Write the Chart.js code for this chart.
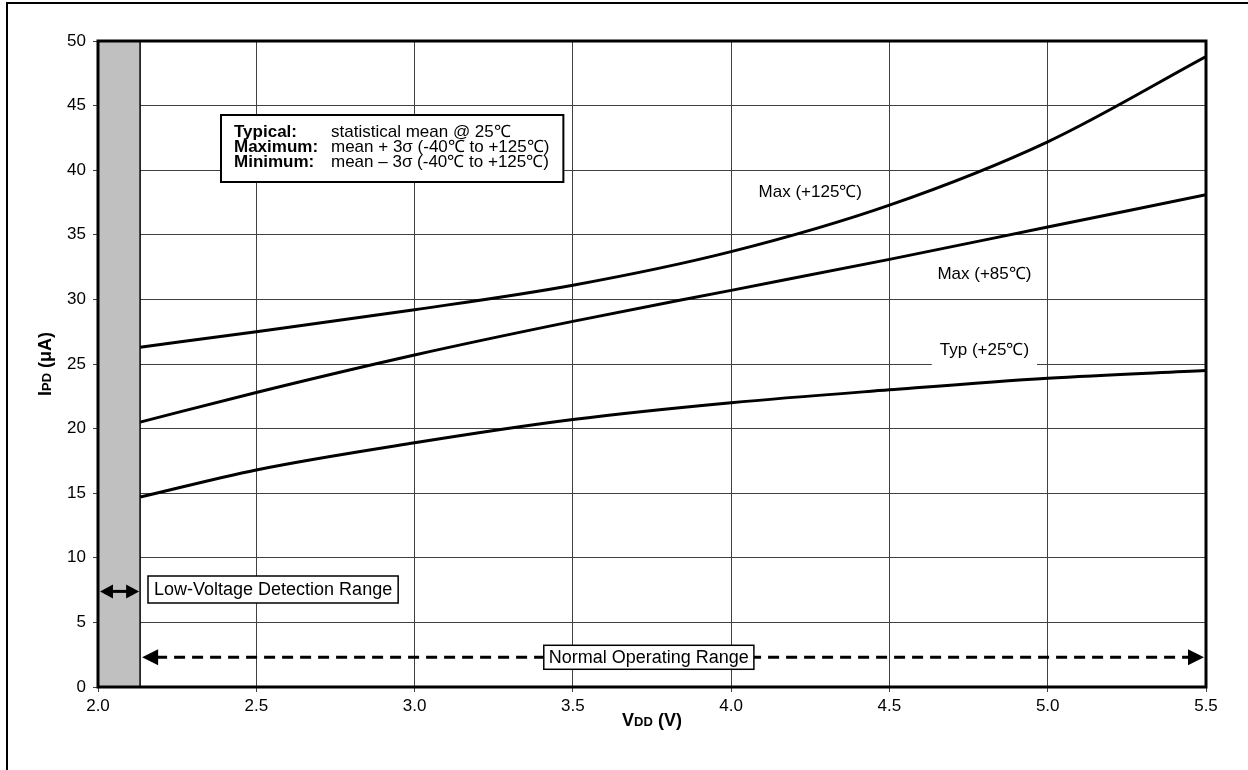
<!DOCTYPE html>
<html>
<head>
<meta charset="utf-8">
<script src="https://cdn.jsdelivr.net/npm/chart.js@4.4.0/dist/chart.umd.min.js"></script>
<style>
    body { margin: 0; background: #fff; }
    canvas { display: block; }
</style>
</head>
<body>
<canvas id="IpdChart" width="1248" height="770"></canvas>
<script>
// -------------------------    Data    -------------------------

// supply voltage (V) sample points, curves start at the edge of the LVD band
var vdd = [2.133, 2.5, 3.0, 3.5, 4.0, 4.5, 5.0, 5.5];

// power-down current (uA)
var max125 = [26.3, 27.5, 29.2, 31.1, 33.7, 37.3, 42.2, 48.8];
var max85 = [20.5, 22.8, 25.7, 28.3, 30.7, 33.1, 35.6, 38.1];
var typ25 = [14.7, 16.8, 18.9, 20.7, 22.0, 23.0, 23.9, 24.5];

var seriesNames = ['Max (+125℃)', 'Max (+85℃)', 'Typ (+25℃)'];

// axis ranges
var xMin = 2.0, xMax = 5.5, xStep = 0.5;
var yMin = 0, yMax = 50, yStep = 5;

// low-voltage detection band end (V)
var lvdEnd = 2.133;

var legendRows = [
    ['Typical:', 'statistical mean @ 25℃'],
    ['Maximum:', 'mean + 3σ (-40℃ to +125℃)'],
    ['Minimum:', 'mean – 3σ (-40℃ to +125℃)'],
];

var FONT = '"Liberation Sans", Arial, sans-serif';


// -------------------------    Helpers    -------------------------

function toPoints(xs, ys) {
    return xs.map(function (x, i) { return { x: x, y: ys[i] }; });
}

// text made of parts [text, size, bold]
function partsWidth(ctx, parts) {
    var w = 0;
    parts.forEach(function (p) {
        ctx.font = (p[2] ? 'bold ' : '') + p[1] + 'px ' + FONT;
        w += ctx.measureText(p[0]).width;
    });
    return w;
}

function drawParts(ctx, parts, x, y) {
    parts.forEach(function (p) {
        ctx.font = (p[2] ? 'bold ' : '') + p[1] + 'px ' + FONT;
        ctx.fillText(p[0], x, y);
        x += ctx.measureText(p[0]).width;
    });
}

function arrowHead(ctx, tipX, y, dir, len, half) {
    ctx.beginPath();
    ctx.moveTo(tipX, y);
    ctx.lineTo(tipX - dir * len, y - half);
    ctx.lineTo(tipX - dir * len, y + half);
    ctx.closePath();
    ctx.fill();
}

// white box with centered text, optional border
function boxedText(ctx, text, cx, cy, size, padX, top, bottom, lineW) {
    ctx.font = size + 'px ' + FONT;
    var w = ctx.measureText(text).width + padX * 2;
    ctx.fillStyle = '#fff';
    ctx.fillRect(cx - w / 2, cy - top, w, top + bottom);
    if (lineW) {
        ctx.strokeStyle = '#000';
        ctx.lineWidth = lineW;
        ctx.strokeRect(cx - w / 2, cy - top, w, top + bottom);
    }
    ctx.fillStyle = '#000';
    ctx.textAlign = 'center';
    ctx.textBaseline = 'middle';
    ctx.fillText(text, cx, cy + 1);
}


// -------------------------    Plugins    -------------------------

// gray low-voltage band, drawn over the grid but below the curves
var bandPlugin = {
    id: 'lvdBand',
    beforeDatasetsDraw: function (chart) {
        var ctx = chart.ctx, a = chart.chartArea;
        var x0 = chart.scales.x.getPixelForValue(xMin);
        var x1 = chart.scales.x.getPixelForValue(lvdEnd);
        ctx.save();
        ctx.fillStyle = '#c0c0c0';
        ctx.fillRect(x0, a.top, x1 - x0, a.bottom - a.top);
        ctx.strokeStyle = '#000';
        ctx.lineWidth = 1.5;
        ctx.beginPath();
        ctx.moveTo(x1, a.top);
        ctx.lineTo(x1, a.bottom);
        ctx.stroke();
        ctx.restore();
    }
};

var annotatePlugin = {
    id: 'annotate',
    afterDatasetsDraw: function (chart) {
        var ctx = chart.ctx, a = chart.chartArea;
        var sx = chart.scales.x, sy = chart.scales.y;
        ctx.save();

        // plot frame
        ctx.strokeStyle = '#000';
        ctx.lineWidth = 3;
        ctx.strokeRect(a.left, a.top, a.right - a.left, a.bottom - a.top);

        // curve labels
        boxedText(ctx, seriesNames[0], sx.getPixelForValue(4.25), sy.getPixelForValue(38.4), 17, 2, 11, 11, 0);
        boxedText(ctx, seriesNames[1], sx.getPixelForValue(4.8), sy.getPixelForValue(32.0), 17, 2, 11, 11, 0);
        boxedText(ctx, seriesNames[2], sx.getPixelForValue(4.8), sy.getPixelForValue(26.1), 17, 8, 14, 16, 0);

        // legend box
        var lx = 221, ly = 115;
        var colX = lx + 110;
        ctx.font = '17px ' + FONT;
        var longest = 0;
        legendRows.forEach(function (row) {
            longest = Math.max(longest, ctx.measureText(row[1]).width);
        });
        var lw = colX + longest + 14 - lx, lh = 67;
        ctx.fillStyle = '#fff';
        ctx.fillRect(lx, ly, lw, lh);
        ctx.lineWidth = 2;
        ctx.strokeRect(lx, ly, lw, lh);
        ctx.fillStyle = '#000';
        ctx.textAlign = 'left';
        ctx.textBaseline = 'middle';
        legendRows.forEach(function (row, i) {
            var ry = ly + 17 + i * 15;
            ctx.font = 'bold 17px ' + FONT;
            ctx.fillText(row[0], lx + 13, ry);
            ctx.font = '17px ' + FONT;
            ctx.fillText(row[1], colX, ry);
        });

        // low-voltage detection arrow
        var ay = sy.getPixelForValue(7.4);
        var bx0 = sx.getPixelForValue(xMin) + 2, bx1 = sx.getPixelForValue(lvdEnd) - 1;
        ctx.fillStyle = '#000';
        ctx.lineWidth = 3;
        ctx.beginPath();
        ctx.moveTo(bx0 + 8, ay);
        ctx.lineTo(bx1 - 8, ay);
        ctx.stroke();
        arrowHead(ctx, bx0, ay, -1, 13, 7);
        arrowHead(ctx, bx1, ay, 1, 13, 7);
        ctx.textAlign = 'left';
        ctx.font = '18px ' + FONT;
        var lvText = 'Low-Voltage Detection Range';
        var lvW = ctx.measureText(lvText).width + 12;
        ctx.fillStyle = '#fff';
        ctx.fillRect(148, 576, lvW, 27);
        ctx.lineWidth = 1.5;
        ctx.strokeRect(148, 576, lvW, 27);
        ctx.fillStyle = '#000';
        ctx.fillText(lvText, 154, 590);

        // normal operating range dashed arrow
        var ny = sy.getPixelForValue(2.3);
        var nx0 = sx.getPixelForValue(lvdEnd) + 2, nx1 = sx.getPixelForValue(xMax) - 2;
        ctx.setLineDash([11, 7]);
        ctx.lineWidth = 3;
        ctx.beginPath();
        ctx.moveTo(nx0 + 14, ny);
        ctx.lineTo(nx1 - 14, ny);
        ctx.stroke();
        ctx.setLineDash([]);
        arrowHead(ctx, nx0, ny, -1, 16, 8);
        arrowHead(ctx, nx1, ny, 1, 16, 8);
        boxedText(ctx, 'Normal Operating Range', sx.getPixelForValue(3.74), ny, 18, 5, 12, 12, 1.5);

        ctx.restore();
    },
    afterDraw: function (chart) {
        var ctx = chart.ctx, a = chart.chartArea;
        ctx.save();
        ctx.fillStyle = '#000';
        ctx.textBaseline = 'alphabetic';
        ctx.textAlign = 'left';

        // x axis title
        var xt = [['V', 18, true], ['DD', 13, true], [' (V)', 18, true]];
        var xw = partsWidth(ctx, xt);
        drawParts(ctx, xt, (a.left + a.right) / 2 - xw / 2, 726);

        // y axis title
        var yt = [['I', 18, true], ['PD', 13, true], [' (μA)', 18, true]];
        var yw = partsWidth(ctx, yt);
        ctx.translate(51, (a.top + a.bottom) / 2);
        ctx.rotate(-Math.PI / 2);
        drawParts(ctx, yt, -yw / 2, 0);
        ctx.setTransform(1, 0, 0, 1, 0, 0);

        // outer frame (top and left edges)
        ctx.strokeStyle = '#000';
        ctx.lineWidth = 2;
        ctx.beginPath();
        ctx.moveTo(7, 770);
        ctx.lineTo(7, 3);
        ctx.lineTo(1248, 3);
        ctx.stroke();
        ctx.restore();
    }
};


// -------------------------    Chart Setup    -------------------------

var lineStyle = {
    borderColor: '#000',
    borderWidth: 3,
    pointRadius: 0,
    fill: false,
    cubicInterpolationMode: 'monotone',
};

var datasets = [max125, max85, typ25].map(function (ys, i) {
    return Object.assign({ label: seriesNames[i], data: toPoints(vdd, ys) }, lineStyle);
});

var ctx = document.getElementById('IpdChart').getContext('2d');
var IpdChart = new Chart(ctx, {
    type: 'line',
    data: { datasets: datasets },
    options: {
        responsive: false,
        animation: false,
        devicePixelRatio: 1,
        layout: { padding: { left: 0, top: 41, right: 42, bottom: 0 } },
        plugins: {
            legend: { display: false },
            tooltip: { enabled: false },
        },
        scales: {
            x: {
                type: 'linear',
                min: xMin,
                max: xMax,
                afterFit: function (scale) { scale.height = 83; },
                ticks: {
                    stepSize: xStep,
                    color: '#000',
                    padding: 4,
                    maxRotation: 0,
                    font: { family: FONT, size: 17 },
                    callback: function (v) { return v.toFixed(1); },
                },
                grid: { color: '#404040', lineWidth: 1, tickLength: 5 },
                border: { display: false },
            },
            y: {
                min: yMin,
                max: yMax,
                afterFit: function (scale) { scale.width = 98; },
                ticks: {
                    stepSize: yStep,
                    color: '#000',
                    padding: 7,
                    font: { family: FONT, size: 17 },
                },
                grid: { color: '#404040', lineWidth: 1, tickLength: 5 },
                border: { display: false },
            },
        },
    },
    plugins: [bandPlugin, annotatePlugin],
});
</script>
</body>
</html>
